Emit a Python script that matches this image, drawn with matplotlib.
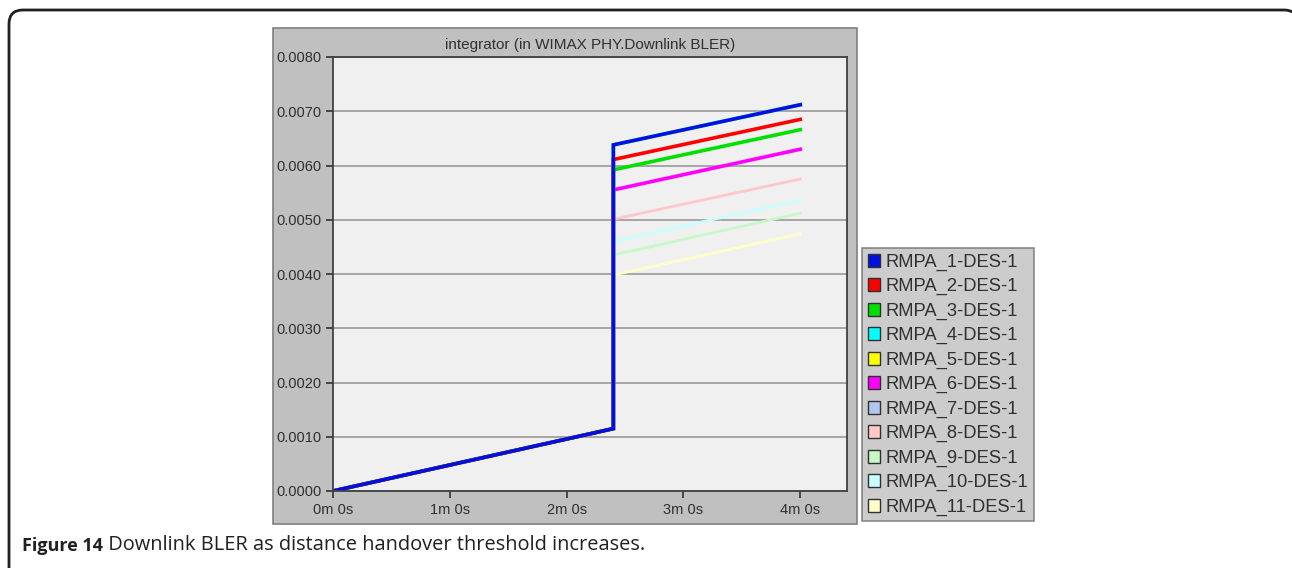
import matplotlib
matplotlib.use("Agg")
import matplotlib.pyplot as plt
from matplotlib.patches import Rectangle, FancyBboxPatch, Patch

# ---- data (time in minutes, BLER) ----
labels = [f"RMPA_{i}-DES-1" for i in range(1, 12)]
colors = ["#0010e0", "#ff0000", "#00e000", "#00ffff", "#ffff00", "#ff00ff",
          "#b0c8f0", "#ffc8c8", "#c8f8c8", "#c8ffff", "#ffffc8"]
ramp_t = [0.0, 2.40]
ramp_v = [0.0, 0.00115]
end_t = 4.0
jump_v = [0.00638, 0.00611, 0.00592, 0.00638, 0.00638, 0.00555,
          0.00638, 0.00501, 0.00435, 0.00460, 0.00398]
end_v = [0.00712, 0.00685, 0.00666, 0.00712, 0.00712, 0.00630,
         0.00712, 0.00575, 0.00512, 0.00536, 0.00474]
x_ticks = [0, 1, 2, 3, 4]
x_labels = ["0m 0s", "1m 0s", "2m 0s", "3m 0s", "4m 0s"]
y_ticks = [i * 0.001 for i in range(9)]

W, H = 1292, 568
fig = plt.figure(figsize=(W / 100, H / 100), dpi=100)

# background layer in pixel coordinates
bg = fig.add_axes([0, 0, 1, 1], zorder=-5)
bg.set_xlim(0, W); bg.set_ylim(H, 0); bg.axis("off")
bg.add_patch(FancyBboxPatch((9, 10), 1289, 700, boxstyle="round,pad=0,rounding_size=14",
                            fc="white", ec="#231f20", lw=2.0))
bg.add_patch(Rectangle((273, 28), 584, 496, fc="#c0c0c0", ec="#808080", lw=1.2))
cap = bg.text(22, 546, "Figure 14", fontsize=13, fontweight="bold", family="Open Sans",
              color="#231f20", va="center", ha="left")
bg.annotate(" Downlink BLER as distance handover threshold increases.", xy=(1, 0),
            xycoords=cap, va="bottom", ha="left", fontsize=14.4, family="Open Sans",
            color="#231f20")

ax = fig.add_axes([333 / W, (H - 491) / H, 514 / W, 434 / H])
ax.set_facecolor("#f0f0f0")
ax.set_xlim(0, 4.4)
ax.set_ylim(0, 0.008)
ax.set_yticks(y_ticks)
ax.set_yticklabels([f"{v:.4f}" for v in y_ticks])
ax.set_xticks(x_ticks)
ax.set_xticklabels(x_labels)
ax.tick_params(labelsize=10.5, colors="#303030", length=5, width=1.2, direction="out")
ax.grid(True, axis="y", color="#a0a0a0", lw=1.3)
ax.set_axisbelow(True)
for s in ax.spines.values():
    s.set_color("#404040"); s.set_linewidth(1.3)
ax.set_title("integrator (in WIMAX PHY.Downlink BLER)", fontsize=11,
             color="#303030", pad=6, family="Liberation Sans")
for lab in ax.get_xticklabels() + ax.get_yticklabels():
    lab.set_family("Liberation Sans")

# draw from last series to first so blue ends on top
for i in reversed(range(len(labels))):
    t = ramp_t + [ramp_t[-1], end_t]
    v = ramp_v + [jump_v[i], end_v[i]]
    lw = 2.6 if i < 6 else 2.0
    ax.plot(t, v, color=colors[i], lw=lw, solid_joinstyle="miter")

handles = [Patch(fc=c, ec="#303030", lw=1.0) for c in colors]
leg = fig.legend(handles, labels, loc="upper left", bbox_to_anchor=(862 / W, 1 - 248 / H),
                 frameon=True, fancybox=False, facecolor="#c0c0c0", edgecolor="#707070",
                 handlelength=0.7, handleheight=0.7, handletextpad=0.3,
                 labelspacing=0.4, borderpad=0.3, borderaxespad=0,
                 prop={"family": "Liberation Sans", "size": 13.2})
leg.get_frame().set_linewidth(1.2)
for tx in leg.get_texts():
    tx.set_color("#303030")

fig.savefig("out.png", dpi=100)
